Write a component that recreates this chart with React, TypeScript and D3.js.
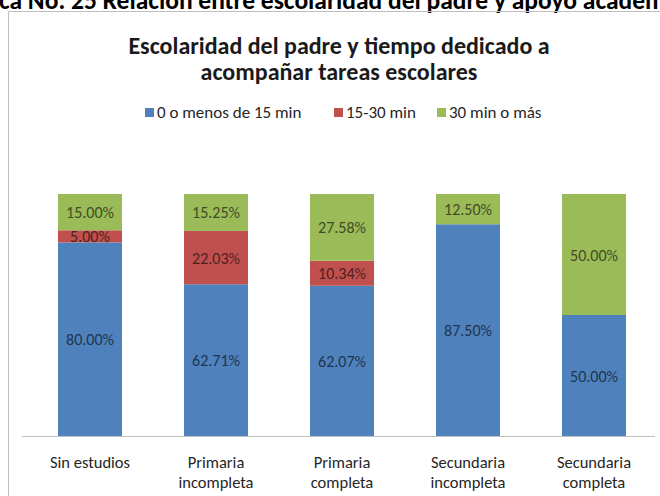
import { useRef, useEffect } from 'react';
import * as d3 from 'd3';

const categories = [
  ['Sin estudios'],
  ['Primaria', 'incompleta'],
  ['Primaria', 'completa'],
  ['Secundaria', 'incompleta'],
  ['Secundaria', 'completa'],
];
const seriesNames = ['0 o menos de 15 min', '15-30 min', '30 min o más'];
const lowValues = [80.0, 62.71, 62.07, 87.5, 50.0];
const midValues = [5.0, 22.03, 10.34, 0, 0];
const highValues = [15.0, 15.25, 27.58, 12.5, 50.0];
const colors = ['#4f81bd', '#c0504d', '#9bbb59'];

const FONT = 'Carlito, Calibri, "Open Sans", sans-serif';

export default function App() {
  const svgRef = useRef<SVGSVGElement>(null);

  useEffect(() => {
    if (!svgRef.current) return;
    const width = 660;
    const height = 496;
    const svg = d3.select(svgRef.current).attr('width', width).attr('height', height);
    svg.selectAll('*').remove();

    svg.append('rect').attr('width', width).attr('height', height).attr('fill', '#fff');

    // caption, cut off at the top of the photo
    svg.append('text')
      .attr('x', -1)
      .attr('y', 9)
      .attr('font-family', FONT)
      .attr('font-weight', 700)
      .attr('font-size', 25.5)
      .attr('fill', '#000')
      .text('ca No. 25 Relación entre escolaridad del padre y apoyo académico');

    // chart frame
    svg.append('path')
      .attr('d', `M8.5,${height + 5} V11.5 H${width + 5}`)
      .attr('fill', 'none')
      .attr('stroke', '#bfbfbf')
      .attr('stroke-width', 1);

    const title = svg.append('text')
      .attr('text-anchor', 'middle')
      .attr('font-family', FONT)
      .attr('font-weight', 700)
      .attr('font-size', 24)
      .attr('fill', '#1a1a1a');
    title.append('tspan').attr('x', 339).attr('y', 54).text('Escolaridad del padre y tiempo dedicado a');
    title.append('tspan').attr('x', 339).attr('y', 80).text('acompañar tareas escolares');

    // legend
    const legendX = [145, 334, 437];
    seriesNames.forEach((name, i) => {
      const g = svg.append('g').attr('transform', `translate(${legendX[i]},112)`);
      g.append('rect').attr('x', 0).attr('y', -4).attr('width', 9).attr('height', 9).attr('fill', colors[i]);
      g.append('text')
        .attr('x', 12)
        .attr('y', 6)
        .attr('font-family', FONT)
        .attr('font-size', 17)
        .attr('fill', '#262626')
        .text(name);
    });

    const rows = categories.map((c, i) => ({
      key: c.join(' '),
      low: lowValues[i],
      mid: midValues[i],
      high: highValues[i],
    }));
    const keys = ['low', 'mid', 'high'];
    const stacked = d3.stack<any>().keys(keys)(rows);

    const x = d3.scaleBand<string>()
      .domain(rows.map(r => r.key))
      .range([27, 657])
      .paddingInner(0.492)
      .paddingOuter(0.246);
    const y = d3.scaleLinear().domain([0, 100]).range([436, 194]);

    stacked.forEach((layer, si) => {
      const g = svg.append('g');
      layer.forEach(d => {
        const v = d[1] - d[0];
        if (v <= 0) return;
        const key = d.data.key;
        g.append('rect')
          .attr('x', x(key)!)
          .attr('y', y(d[1]))
          .attr('width', x.bandwidth())
          .attr('height', y(d[0]) - y(d[1]))
          .attr('fill', colors[si]);
      });
      layer.forEach(d => {
        const v = d[1] - d[0];
        if (v <= 0) return;
        const key = d.data.key;
        g.append('text')
          .attr('x', x(key)! + x.bandwidth() / 2)
          .attr('y', (y(d[0]) + y(d[1])) / 2 + 6)
          .attr('text-anchor', 'middle')
          .attr('font-family', FONT)
          .attr('font-size', 16)
          .attr('fill', d3.color(colors[si])!.darker(2.5).formatHex())
          .text(v.toFixed(2) + '%');
      });
    });

    // baseline
    svg.append('line')
      .attr('x1', 22).attr('x2', 655)
      .attr('y1', 436.5).attr('y2', 436.5)
      .attr('stroke', '#bfbfbf');

    // category labels
    rows.forEach((r, i) => {
      const t = svg.append('text')
        .attr('text-anchor', 'middle')
        .attr('font-family', FONT)
        .attr('font-size', 16.5)
        .attr('fill', '#262626');
      categories[i].forEach((line, li) => {
        t.append('tspan')
          .attr('x', x(r.key)! + x.bandwidth() / 2)
          .attr('y', 468 + li * 20)
          .text(line);
      });
    });
  }, []);

  return (
    <div style={{ position: 'fixed', left: 0, top: 0 }}>
      <svg ref={svgRef} style={{ display: 'block' }}></svg>
    </div>
  );
}
